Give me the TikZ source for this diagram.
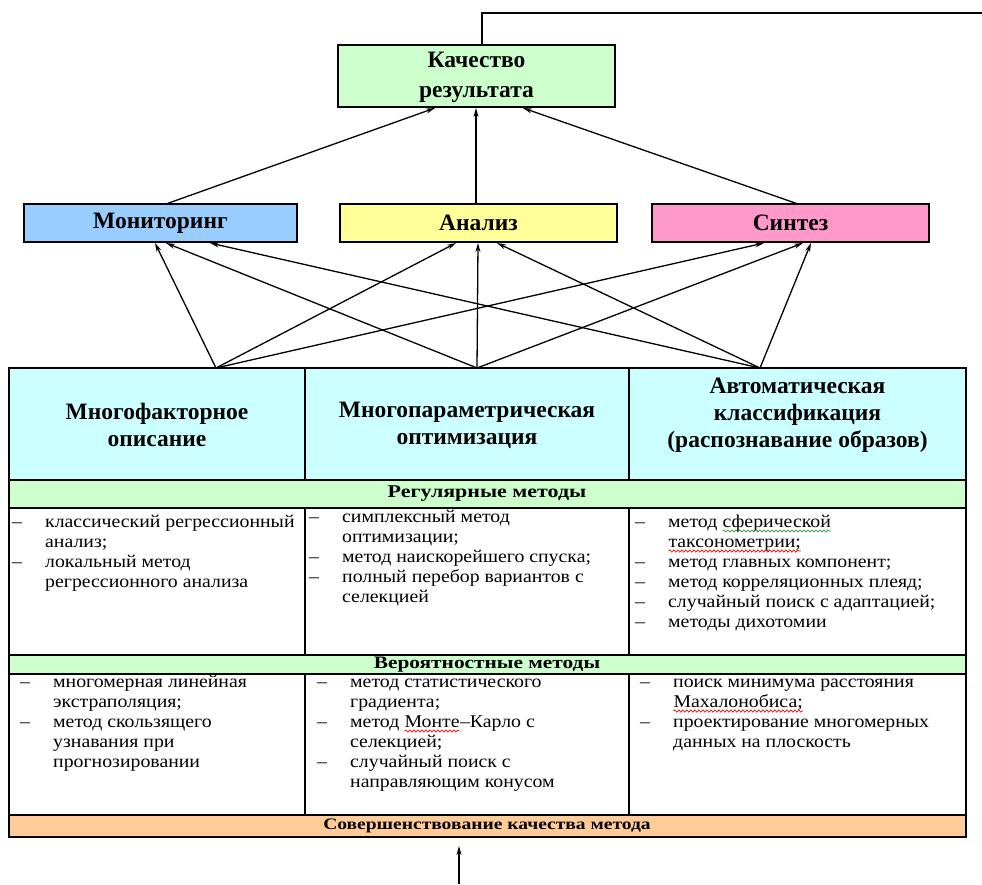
\documentclass[tikz,border=0pt]{standalone}
\usepackage{fontspec}
\setmainfont{Liberation Serif}
\newfontfamily\headf{Liberation Serif}[BoldFont={Liberation Serif Bold}]
\newfontfamily\bodyf[FakeStretch=1.1]{Liberation Serif}
\newfontfamily\bandf[FakeStretch=1.22]{Liberation Serif}
\usetikzlibrary{arrows.meta,decorations.pathmorphing}
\definecolor{qgreen}{HTML}{CCFFCC}
\definecolor{monblue}{HTML}{99CCFF}
\definecolor{anayellow}{HTML}{FFFF99}
\definecolor{synpink}{HTML}{FF99CC}
\definecolor{headcyan}{HTML}{CCFFFF}
\definecolor{bandorange}{HTML}{FFCC99}
\definecolor{wavegreen}{HTML}{339933}
\newcommand\wavyu[2]{\tikz[baseline=0pt]{\node[inner sep=0pt, outer sep=0pt, anchor=base west] (w) at (0pt,0pt) {#2};
  \draw[#1, line width=0.7pt, decorate, decoration={snake, amplitude=1.1pt, segment length=4pt}] ([yshift=-4pt]w.base west) -- ([yshift=-4pt]w.base east);}}
\newcommand\celltab[1]{\begin{tabular}[t]{@{}p{33pt}@{}l@{}}#1\end{tabular}}
\tikzset{
  frame/.style={draw=black, line width=1.3pt, inner sep=0pt, outer sep=0pt},
  bigtxt/.style={font=\headf\fontsize{23.5}{27}\selectfont\bfseries, align=center, inner sep=0pt},
  bandtxt/.style={font=\bandf\fontsize{18}{20}\selectfont\bfseries, inner sep=0pt},
  bandtxtmid/.style={font=\bandf\fontsize{17.5}{20}\selectfont\bfseries, inner sep=0pt},
  bandtxtsmall/.style={font=\bandf\fontsize{16}{20}\selectfont\bfseries, inner sep=0pt},
  bodytxt/.style={font=\bodyf\fontsize{18}{20}\selectfont, inner sep=0pt, anchor=base west},
  arr/.style={-{Stealth[length=9pt,width=5pt]}, line width=1.3pt, draw=black},
  fbline/.style={line width=1.3pt, draw=black},
}
\begin{document}
\begin{tikzpicture}[x=1pt,y=-1pt]
\useasboundingbox (0,0) rectangle (982,884);

% top box
\node[frame, fill=qgreen, minimum width=277pt, minimum height=62pt] (q) at (476.5,76) {};
\node[bigtxt, font=\headf\fontsize{23.5}{30}\selectfont\bfseries] (qt) at (476.5,77) {Качество\\результата};

% middle row
\node[frame, fill=monblue, minimum width=273pt, minimum height=38pt] (mon) at (160.5,223) {};
\node[bigtxt] (mont) at (mon.center) {Мониторинг};
\node[frame, fill=anayellow, minimum width=277pt, minimum height=38pt] (ana) at (478.5,223) {};
\node[bigtxt] (anat) at (ana.center) {Анализ};
\node[frame, fill=synpink, minimum width=277pt, minimum height=38pt] (syn) at (790.5,223) {};
\node[bigtxt] (synt) at (syn.center) {Синтез};

% table header
\node[frame, fill=headcyan, minimum width=296pt, minimum height=112pt] (h1) at (157,424) {};
\node[frame, fill=headcyan, minimum width=324pt, minimum height=112pt] (h2) at (467,424) {};
\node[frame, fill=headcyan, minimum width=337pt, minimum height=112pt] (h3) at (797.5,424) {};
\node[bigtxt] (h1t) at (157,425) {Многофакторное\\описание};
\node[bigtxt] (h2t) at (467,425) {Многопараметрическая\\оптимизация};
\node[bigtxt] (h3t) at (797.5,415) {Автоматическая\\классификация\\(распознавание образов)};

% bands and rows
\node[frame, fill=qgreen, minimum width=957pt, minimum height=28pt] (band1) at (487.5,494) {};
\node[bandtxt] (band1t) at (487,494) {Регулярные методы};
\node[frame, fill=white, minimum width=296pt, minimum height=147pt] (r11) at (157,581.5) {};
\node[frame, fill=white, minimum width=324pt, minimum height=147pt] (r12) at (467,581.5) {};
\node[frame, fill=white, minimum width=337pt, minimum height=147pt] (r13) at (797.5,581.5) {};
\node[frame, fill=qgreen, minimum width=957pt, minimum height=19pt] (band2) at (487.5,664.5) {};
\node[bandtxtmid] (band2t) at (487,664.5) {Вероятностные методы};
\node[frame, fill=white, minimum width=296pt, minimum height=141pt] (r21) at (157,744.5) {};
\node[frame, fill=white, minimum width=324pt, minimum height=141pt] (r22) at (467,744.5) {};
\node[frame, fill=white, minimum width=337pt, minimum height=141pt] (r23) at (797.5,744.5) {};
\node[frame, fill=bandorange, minimum width=957pt, minimum height=22pt] (band3) at (487.5,826) {};
\node[bandtxtsmall] (band3t) at (487,826) {Совершенствование качества метода};

% cell texts
\node[bodytxt] (t11) at (12,527) {\celltab{–&классический регрессионный\\ &анализ;\\ –&локальный метод\\ &регрессионного анализа}};
\node[bodytxt] (t12) at (309,522) {\celltab{–&симплексный метод\\ &оптимизации;\\ –&метод наискорейшего спуска;\\ –&полный перебор вариантов с\\ &селекцией}};
\node[bodytxt] (t13) at (635,527) {\celltab{–&метод \wavyu{wavegreen}{сферической}\\ &\wavyu{red}{таксонометрии;}\\ –&метод главных компонент;\\ –&метод корреляционных плеяд;\\ –&случайный поиск с адаптацией;\\ –&методы дихотомии}};
\node[bodytxt] (t21) at (20,687) {\celltab{–&многомерная линейная\\ &экстраполяция;\\ –&метод скользящего\\ &узнавания при\\ &прогнозировании}};
\node[bodytxt] (t22) at (317,687) {\celltab{–&метод статистического\\ &градиента;\\ –&метод \wavyu{red}{Монте}–Карло с\\ &селекцией;\\ –&случайный поиск с\\ &направляющим конусом}};
\node[bodytxt] (t23) at (640,687) {\celltab{–&поиск минимума расстояния\\ &\wavyu{red}{Махалонобиса;}\\ –&проектирование многомерных\\ &данных на плоскость}};

% connector end points
\coordinate (s1) at (216,368);
\coordinate (s2) at (477,368);
\coordinate (s3) at (760,368);
\coordinate (m1) at (155,243);
\coordinate (m2) at (166,243);
\coordinate (m3) at (210,243);
\coordinate (a1) at (456,243);
\coordinate (a2) at (478,243);
\coordinate (a3) at (497,243);
\coordinate (y1) at (764,243);
\coordinate (y2) at (803,243);
\coordinate (y3) at (811,243);
\coordinate (mt) at (166,204);
\coordinate (at) at (476,204);
\coordinate (yt) at (798,204);
\coordinate (q1) at (435,108);
\coordinate (q2) at (476,108);
\coordinate (q3) at (523,108);
\coordinate (fb0) at (982,13);
\coordinate (fb1) at (482,45);
\coordinate (bs) at (459,884);
\coordinate (be) at (459,846);

\draw[arr] (s1) -- (m1);
\draw[arr] (s2) -- (m2);
\draw[arr] (s3) -- (m3);
\draw[arr] (s1) -- (a1);
\draw[arr] (s2) -- (a2);
\draw[arr] (s3) -- (a3);
\draw[arr] (s1) -- (y1);
\draw[arr] (s2) -- (y2);
\draw[arr] (s3) -- (y3);
\draw[arr] (mt) -- (q1);
\draw[arr] (at) -- (q2);
\draw[arr] (yt) -- (q3);
\draw[fbline] (fb0) -| (fb1);
\draw[arr] (bs) -- (be);
\end{tikzpicture}
\end{document}
